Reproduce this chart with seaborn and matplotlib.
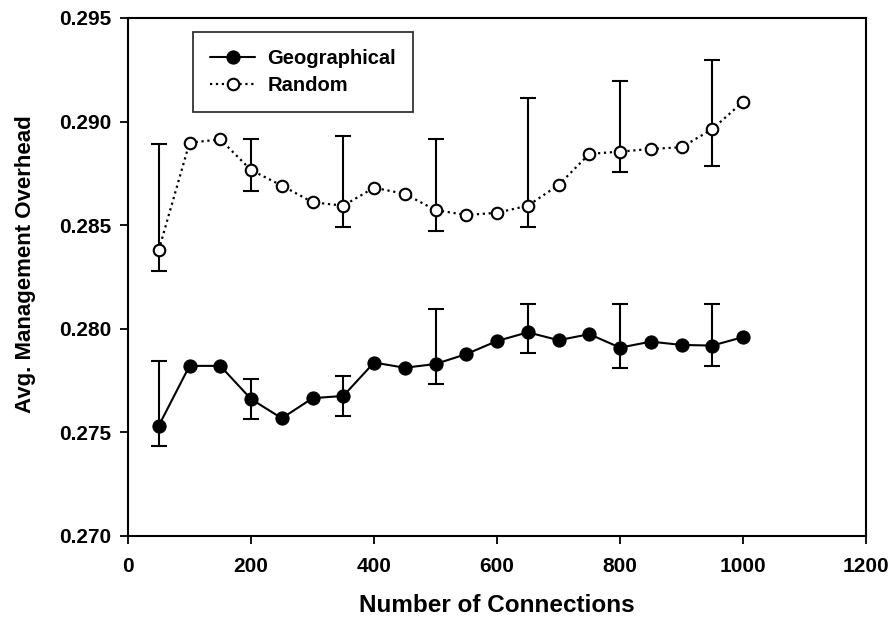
import numpy as np
import pandas as pd
import matplotlib
matplotlib.use("Agg")
import matplotlib.pyplot as plt
import seaborn as sns

connections = [50, 100, 150, 200, 250, 300, 350, 400, 450, 500,
               550, 600, 650, 700, 750, 800, 850, 900, 950, 1000]
geographical = [0.27532, 0.27821, 0.27821, 0.27661, 0.27568, 0.27665, 0.27676,
                0.27837, 0.27812, 0.27830, 0.27878, 0.27941, 0.27983, 0.27945,
                0.27974, 0.27909, 0.27938, 0.27922, 0.27919, 0.27960]
random_ = [0.28380, 0.28898, 0.28914, 0.28766, 0.28691, 0.28611, 0.28594,
           0.28681, 0.28651, 0.28573, 0.28549, 0.28560, 0.28594, 0.28694,
           0.28844, 0.28855, 0.28868, 0.28876, 0.28964, 0.29096]

err_x = [50, 200, 350, 500, 650, 800, 950]
geo_err_low = [0.27434, 0.27565, 0.27579, 0.27732, 0.27885, 0.27812, 0.27821]
geo_err_high = [0.27846, 0.27758, 0.27774, 0.28096, 0.28118, 0.28118, 0.28118]
rnd_err_low = [0.28280, 0.28665, 0.28493, 0.28474, 0.28493, 0.28755, 0.28787]
rnd_err_high = [0.28890, 0.28914, 0.28932, 0.28914, 0.29115, 0.29197, 0.29296]

x_ticks = [0, 200, 400, 600, 800, 1000, 1200]
y_ticks = [0.270, 0.275, 0.280, 0.285, 0.290, 0.295]

sns.set_style("ticks")
plt.rcParams['font.family'] = ['Liberation Sans', 'DejaVu Sans']
plt.rcParams['font.weight'] = 'bold'
plt.rcParams['text.color'] = 'black'
plt.rcParams['axes.labelcolor'] = 'black'

fig = plt.figure(figsize=(8.92, 6.2), dpi=100)
ax = fig.add_axes([0.1435, 0.1355, 0.8275, 0.8355])

df = pd.DataFrame({"x": connections, "Geographical": geographical, "Random": random_})

def draw_err(xs, lo, hi):
    xs = np.array(xs)
    lo = np.array(lo)
    hi = np.array(hi)
    mid = (lo + hi) / 2
    ax.errorbar(xs, mid, yerr=[mid - lo, hi - mid], fmt='none', ecolor='black',
                elinewidth=1.5, capsize=6, capthick=1.5, zorder=2)

draw_err(err_x, geo_err_low, geo_err_high)
draw_err(err_x, rnd_err_low, rnd_err_high)

sns.lineplot(data=df, x="x", y="Geographical", ax=ax, color='black', linewidth=1.5,
             marker='o', markersize=9.5, markerfacecolor='black', markeredgecolor='black',
             label='Geographical', zorder=3)
sns.lineplot(data=df, x="x", y="Random", ax=ax, color='black', linewidth=1.6,
             linestyle=':', marker='o', markersize=8.3, markerfacecolor='white',
             markeredgecolor='black', markeredgewidth=1.5, label='Random', zorder=3)

ax.set_xlim(0, 1200)
ax.set_ylim(0.270, 0.295)
ax.set_xticks(x_ticks)
ax.set_yticks(y_ticks)
ax.set_yticklabels([f"{v:.3f}" for v in y_ticks])
ax.tick_params(direction='out', length=6, width=1.3, labelsize=15, colors='black')
ax.tick_params(axis='x', pad=9)
ax.tick_params(axis='y', pad=6)
for lbl in ax.get_xticklabels() + ax.get_yticklabels():
    lbl.set_fontweight('bold')
for s in ax.spines.values():
    s.set_visible(True)
    s.set_linewidth(1.5)
    s.set_color('black')

ax.set_xlabel("Number of Connections", fontsize=17.5, fontweight='bold', color='black')
ax.set_ylabel("Avg. Management Overhead", fontsize=16, fontweight='bold', color='black')
ax.xaxis.set_label_coords(0.5, -0.112)
ax.yaxis.set_label_coords(-0.124, 0.525)

leg = ax.legend(loc='upper left', bbox_to_anchor=(0.088, 0.973), borderaxespad=0,
                frameon=True, fancybox=False, edgecolor='black', fontsize=14.5,
                handlelength=2.25, borderpad=0.85, labelspacing=0.4, handletextpad=0.6)
leg.get_frame().set_linewidth(1.3)
for t in leg.get_texts():
    t.set_fontweight('bold')
    t.set_color('black')

fig.savefig("out.png", dpi=100)
